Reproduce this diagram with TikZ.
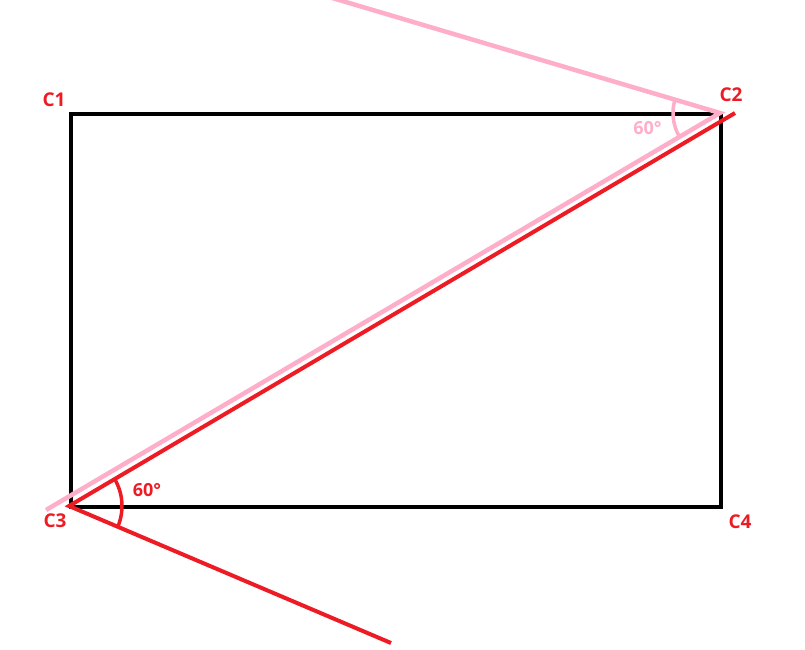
\documentclass[tikz,border=0pt]{standalone}
\usepackage{fontspec}
\setmainfont{Open Sans}
\definecolor{pred}{HTML}{ED1C24}
\definecolor{ppink}{HTML}{FFAEC9}
\tikzset{
  rect/.style={draw=black, line width=4pt},
  pinkline/.style={draw=ppink, line width=4.5pt},
  redline/.style={draw=pred, line width=4pt},
  corner/.style={text=pred, font=\bfseries\fontsize{19}{22}\selectfont, inner sep=0pt},
  anglab/.style={font=\bfseries\fontsize{18}{21}\selectfont, inner sep=0pt}
}
\begin{document}
\begin{tikzpicture}[x=1pt,y=-1pt]
\useasboundingbox (0,0) rectangle (805,649);
\clip (0,0) rectangle (805,649);
% corners
\coordinate (c1) at (71,114);
\coordinate (c2) at (721,114);
\coordinate (c3) at (71,507);
\coordinate (c4) at (721,507);
% rectangle
\draw[rect] (c1) -- (c2) -- (c4) -- (c3) -- cycle;
% pink lines
\coordinate (p2) at (720,113);
\coordinate (ptop) at (302,-11);
\coordinate (pend) at (46,510);
\draw[pinkline] (ptop) -- (p2) -- (pend);
\draw[pinkline, line width=3.5pt, shift={(p2)}] (149.5:47) arc[start angle=149.5, end angle=196.6, radius=47];
% red lines
\coordinate (r3) at (69,506);
\coordinate (rend) at (735,113);
\coordinate (rbot) at (391,643);
\draw[redline] (rend) -- (r3) -- (rbot);
\draw[redline, line width=3.5pt, shift={(r3)}] (-30.4:53) arc[start angle=-30.4, end angle=23, radius=53];
% labels
\node[corner] (l1) at (54,100) {C1};
\node[corner] (l2) at (731,95) {C2};
\node[corner] (l3) at (55,521) {C3};
\node[corner] (l4) at (740,522) {C4};
\node[anglab, text=ppink] (a2) at (647.5,128.5) {60°};
\node[anglab, text=pred] (a3) at (147,490.5) {60°};
\end{tikzpicture}
\end{document}
